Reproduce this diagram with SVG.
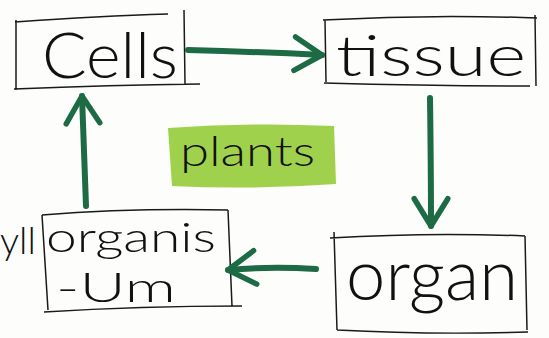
<svg xmlns="http://www.w3.org/2000/svg" width="549" height="338" viewBox="0 0 549 338">
<style>
.box{fill:none;stroke:#1a1a1a;stroke-width:1.5;stroke-linejoin:round}
.lbl{font-family:"Lato","Open Sans","DejaVu Sans",sans-serif;font-weight:300;fill:#111}
.arr{fill:none;stroke:#1d6b45;stroke-width:6;stroke-linecap:round;stroke-linejoin:round}
</style>
<defs>
<marker id="ah" viewBox="0 0 20 20" refX="16" refY="10" markerWidth="7" markerHeight="7" markerUnits="strokeWidth" orient="auto">
<path d="M3,2 L16,10 L3,18" fill="none" stroke="#1d6b45" stroke-width="2.6" stroke-linecap="round" stroke-linejoin="round"/>
</marker>
</defs>
<rect width="549" height="338" fill="#fdfdfb"/>
<g id="plants">
<path d="M168,128 Q250,122 334,126 L336,184 Q250,190 172,186 Z" fill="#95cc3a" opacity="0.9"/>
<text class="lbl" x="180" y="166" font-size="42" textLength="135" lengthAdjust="spacingAndGlyphs">plants</text>
</g>
<g id="cells">
<path class="box" d="M15,22 Q100,16 168,14 M16,20 L16,90 M14,89 Q110,85 200,84 M184,10 L185,84"/>
<text class="lbl" x="42" y="78" font-size="64" textLength="136" lengthAdjust="spacingAndGlyphs">Cells</text>
</g>
<g id="tissue">
<path class="box" d="M323,20 Q430,14 537,18 M325,20 L326,82 M324,83 Q430,86 530,86 M535,15 L536,86"/>
<text class="lbl" x="336" y="76" font-size="58" textLength="190" lengthAdjust="spacingAndGlyphs">tissue</text>
</g>
<g id="organ">
<path class="box" d="M330,238 Q430,232 525,236 M334,232 L337,330 M337,330 Q430,335 528,332 M525,236 L527,330"/>
<text class="lbl" x="346" y="300" font-size="70" textLength="172" lengthAdjust="spacingAndGlyphs">organ</text>
</g>
<g id="organism">
<text class="lbl" x="0" y="254" font-size="38">yll</text>
<path class="box" d="M42,215 Q130,208 228,210 M42,215 L48,310 M44,312 Q140,306 242,306 M228,210 L232,306"/>
<text class="lbl" x="46" y="252" font-size="42" textLength="170" lengthAdjust="spacingAndGlyphs">organis</text>
<text class="lbl" x="56" y="302" font-size="42" textLength="120" lengthAdjust="spacingAndGlyphs">-Um</text>
</g>
<g id="connectors">
<path class="arr" d="M188,50 Q260,52 322,55" marker-end="url(#ah)"/>
<path class="arr" d="M430,98 Q431,170 431,226" marker-end="url(#ah)"/>
<path class="arr" d="M316,269 Q270,266 228,270" marker-end="url(#ah)"/>
<path class="arr" d="M86,206 Q84,150 82,96" marker-end="url(#ah)"/>
</g>
</svg>
